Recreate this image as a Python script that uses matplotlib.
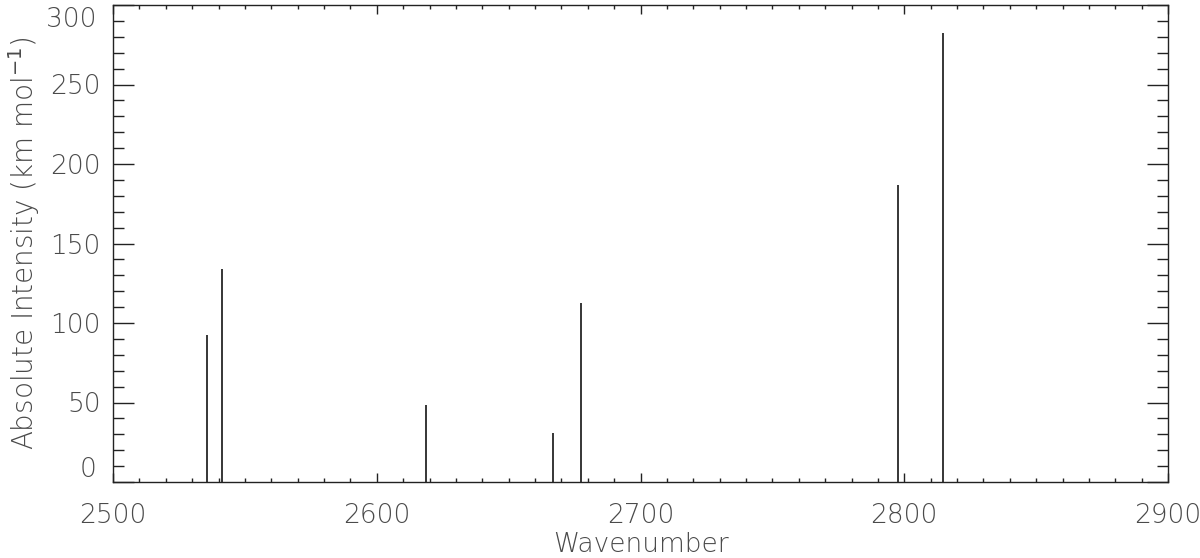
import matplotlib
matplotlib.use('Agg')
import matplotlib.pyplot as plt
import matplotlib.transforms as mtrans
from matplotlib.ticker import MultipleLocator, FuncFormatter

# line positions (wavenumber) and absolute intensities
wavenumber = [2535.5, 2541.4, 2618.8, 2666.9, 2677.3, 2797.6, 2814.8]
intensity = [92.5, 134.0, 48.2, 30.6, 112.4, 186.6, 282.2]

plt.rcParams['font.family'] = ['DejaVu Sans']
plt.rcParams['mathtext.fontset'] = 'dejavusans'
txt_color = '#4a4a4a'
y_min, y_max = 0, 300

fig = plt.figure(figsize=(12, 5.58), dpi=100)
ax = fig.add_axes([113/1200, 76/558, 1055/1200, 477/558])

ax.vlines(wavenumber, 0, intensity, color='k', linewidth=1.1)

ax.set_xlim(2500, 2900)
ax.set_ylim(y_min, y_max)
ax.xaxis.set_major_locator(MultipleLocator(100))
ax.xaxis.set_minor_locator(MultipleLocator(10))
ax.yaxis.set_major_locator(MultipleLocator(50))
ax.yaxis.set_minor_locator(MultipleLocator(10))
# end labels are drawn separately so they stay inside the axis range
ax.yaxis.set_major_formatter(FuncFormatter(
    lambda v, p: '' if v in (y_min, y_max) else f'{v:.0f}'))

ax.tick_params(axis='both', which='both', direction='in', top=True, right=True,
               color='#222222', width=1, labelsize=19, labelcolor=txt_color)
ax.tick_params(axis='x', which='major', length=6.5, pad=15)
ax.tick_params(axis='x', which='minor', length=3.2)
ax.tick_params(axis='y', which='major', length=15, pad=9)
ax.tick_params(axis='y', which='minor', length=7.6)
for s in ax.spines.values():
    s.set_linewidth(1)
    s.set_color('#222222')

for lab in ax.get_xticklabels() + ax.get_yticklabels():
    lab.set_fontweight(200)

trans = ax.get_yaxis_transform()
off = mtrans.ScaledTranslation(-12/72, 0, fig.dpi_scale_trans)
ax.text(0, y_min, f'{y_min}', transform=trans + off, ha='right', va='bottom',
        fontsize=19, color=txt_color, fontweight=200)
off_top = mtrans.ScaledTranslation(-12/72, -2/100, fig.dpi_scale_trans)
ax.text(0, y_max, f'{y_max}', transform=trans + off_top, ha='right', va='top',
        fontsize=19, color=txt_color, fontweight=200)

ax.set_xlabel('Wavenumber', fontsize=19, color=txt_color, fontweight=200, labelpad=3)
ax.set_ylabel('Absolute Intensity (km mol$^{-1}$)', fontsize=20, color=txt_color,
              fontweight=200, labelpad=6)

fig.savefig('out.png', dpi=100)
